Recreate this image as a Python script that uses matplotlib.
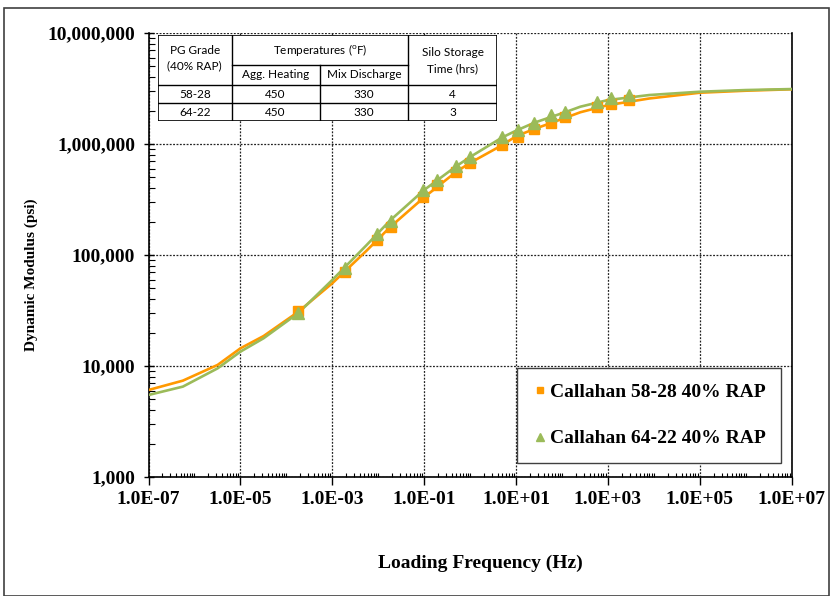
import numpy as np
import matplotlib
matplotlib.use('Agg')
import matplotlib.pyplot as plt
from matplotlib.lines import Line2D
from matplotlib.patches import Rectangle
from matplotlib.ticker import FixedLocator, FuncFormatter, NullFormatter
from matplotlib.transforms import offset_copy

plt.rcParams['mathtext.fontset'] = 'custom'
plt.rcParams['mathtext.rm'] = 'Lato'

SERIF = 'Liberation Serif'
SANS = 'Lato'
ORANGE = '#FF9900'
GREEN = '#9BBB59'

W, H = 832, 596

# measured E* at reduced frequency (Hz, psi)
freq = [1.8e-4, 1.9e-3, 9.3e-3, 1.86e-2, 9.5e-2, 0.19, 0.49, 1.0,
        4.9, 11, 25, 58, 117, 575, 1175, 2880]
e_5828 = [31500, 70800, 136500, 177800, 331000, 425000, 562000, 670000,
          979000, 1156000, 1365000, 1555000, 1741000, 2168000, 2292000, 2490000]
e_6422 = [29800, 75900, 154600, 203900, 385000, 474000, 634000, 769000,
          1148000, 1336000, 1555000, 1824000, 1955000, 2405000, 2581000, 2762000]

# fitted master curves
curve_freq = [1e-7, 5.6e-7, 3.2e-6, 1e-5, 3.2e-5, 1.8e-4, 1e-3, 5.6e-3,
              1.8e-2, 0.1, 0.5, 1, 5, 10, 25, 126, 251, 1000, 7900, 1e5, 1e6, 1e7]
curve_5828 = [6080, 7380, 10230, 14420, 18620, 30690, 55590, 109600,
              177800, 331100, 562300, 676100, 977200, 1175000, 1365000,
              1738000, 1932000, 2239000, 2570000, 2897000, 3020000, 3112000]
curve_6422 = [5480, 6520, 9530, 13460, 17780, 29850, 59570, 123000,
              204200, 385500, 631000, 763800, 1146000, 1318000, 1556000,
              1954000, 2168000, 2489000, 2761000, 2958000, 3062000, 3126000]

# mixing / storage table
tbl_grade = ['58-28', '64-22']
tbl_agg = ['450', '450']
tbl_mix = ['330', '330']
tbl_silo = ['4', '3']

legend_labels = ['Callahan 58-28 40% RAP', 'Callahan 64-22 40% RAP']

fig = plt.figure(figsize=(W / 100, H / 100), dpi=100)
ax = fig.add_axes([148.5 / W, 1 - 477 / H, (791.7 - 148.5) / W, (477 - 33) / H])

ax.plot(curve_freq, curve_5828, color=ORANGE, lw=1.9, zorder=3)
ax.plot(curve_freq, curve_6422, color=GREEN, lw=1.9, zorder=3)
# small black caps under the mid-range squares
cap_tr = offset_copy(ax.transData, fig=fig, x=0, y=-4, units='dots')
ax.plot(freq[1:8], e_5828[1:8], ls='none', marker='_', ms=6, mew=2,
        color='black', transform=cap_tr, zorder=3.5)
ax.plot(freq, e_5828, ls='none', marker='s', ms=6.5, color=ORANGE, zorder=4)
ax.plot(freq, e_6422, ls='none', marker='^', ms=8, color=GREEN, zorder=5)

ax.set_xscale('log')
ax.set_yscale('log')
ax.set_xlim(1e-7, 1e7)
ax.set_ylim(1e3, 1e7)

xmaj = [10.0 ** p for p in range(-7, 8, 2)]
xmin = [k * 10.0 ** p for p in range(-7, 7) for k in range(1, 10)
        if not (k == 1 and p % 2 != 0)]
ax.xaxis.set_major_locator(FixedLocator(xmaj))
ax.xaxis.set_minor_locator(FixedLocator(xmin))
ax.xaxis.set_major_formatter(FuncFormatter(lambda v, p: f'{v:.1E}'))
ax.xaxis.set_minor_formatter(NullFormatter())

ymaj = [10.0 ** p for p in range(3, 8)]
ymin = [k * 10.0 ** p for p in range(3, 7) for k in range(2, 10)]
ax.yaxis.set_major_locator(FixedLocator(ymaj))
ax.yaxis.set_minor_locator(FixedLocator(ymin))
ax.yaxis.set_major_formatter(FuncFormatter(lambda v, p: f'{int(round(v)):,}'))
ax.yaxis.set_minor_formatter(NullFormatter())

ax.tick_params(axis='x', which='major', direction='out', length=6, width=1, pad=4)
ax.tick_params(axis='x', which='minor', direction='in', length=3, width=0.8)
ax.tick_params(axis='y', which='major', direction='inout', length=7, width=1, pad=6)
ax.tick_params(axis='y', which='minor', direction='in', length=4, width=0.8)
for lab in ax.get_xticklabels() + ax.get_yticklabels():
    lab.set_fontfamily(SERIF)
    lab.set_fontweight('bold')
    lab.set_fontsize(14)

ax.grid(True, which='major', color='#222222', ls=(0, (1.5, 1.2)), lw=0.9)
for s in ['left', 'bottom', 'right']:
    ax.spines[s].set_linewidth(1.2)
ax.spines['top'].set_visible(False)

fig.text(0.5777, 1 - 563 / H, 'Loading Frequency (Hz)', ha='center', va='center',
         family=SERIF, weight='bold', fontsize=14)
fig.text(31 / W, 1 - 275 / H, 'Dynamic Modulus (psi)', ha='center', va='center',
         rotation=90, family=SERIF, weight='bold', fontsize=11)

handles = [Line2D([], [], ls='none', marker='s', ms=5, color=ORANGE),
           Line2D([], [], ls='none', marker='^', ms=6, color=GREEN)]
leg = ax.legend(handles, legend_labels, loc='lower right',
                bbox_to_anchor=(0.9834, 0.0315), borderaxespad=0,
                prop={'family': SERIF, 'weight': 'bold', 'size': 14},
                handlelength=0.8, handletextpad=0.1, borderpad=0.8,
                labelspacing=1.5, fancybox=False, framealpha=1)
leg.get_frame().set_edgecolor('#404040')
leg.get_frame().set_linewidth(1.0)

# table, drawn in pixel units relative to its top-left corner
tx0, ty0, tw, th = 158, 35, 339, 86
tax = fig.add_axes([tx0 / W, 1 - (ty0 + th) / H, tw / W, th / H], zorder=6)
tax.set_xlim(0, tw)
tax.set_ylim(th, 0)
tax.axis('off')
tax.add_patch(Rectangle((0, 0), tw, th, facecolor='white', edgecolor='black', lw=1.2))
lines = [((73.5, 73.5), (0, th)), ((250.5, 250.5), (0, th)),
         ((161.5, 161.5), (30, th)), ((73.5, 250.5), (30, 30)),
         ((0, tw), (50, 50)), ((0, tw), (68, 68))]
for xs, ys in lines:
    tax.plot(xs, ys, color='black', lw=1.0)
tkw = dict(ha='center', va='center', family=SANS, fontsize=8.5)
tax.text(36.75, 15, 'PG Grade', **tkw)
tax.text(36.75, 31, '(40% RAP)', **tkw)
tax.text(162, 15, r'Temperatures ($^{\rm o}$F)', **tkw)
tax.text(117.5, 40, 'Agg. Heating', **tkw)
tax.text(206, 40, 'Mix Discharge', **tkw)
tax.text(294.75, 17, 'Silo Storage', **tkw)
tax.text(294.75, 34, 'Time (hrs)', **tkw)
for i in range(len(tbl_grade)):
    yy = 59 + 18 * i
    tax.text(36.75, yy, tbl_grade[i], **tkw)
    tax.text(117.5, yy, tbl_agg[i], **tkw)
    tax.text(206, yy, tbl_mix[i], **tkw)
    tax.text(294.75, yy, tbl_silo[i], **tkw)

# outer chart border
fig.add_artist(Rectangle((4 / W, 0), 825 / W, 1 - 8 / H, transform=fig.transFigure,
                         fill=False, edgecolor='#404040', lw=1.2))

fig.savefig('out.png', dpi=100)
